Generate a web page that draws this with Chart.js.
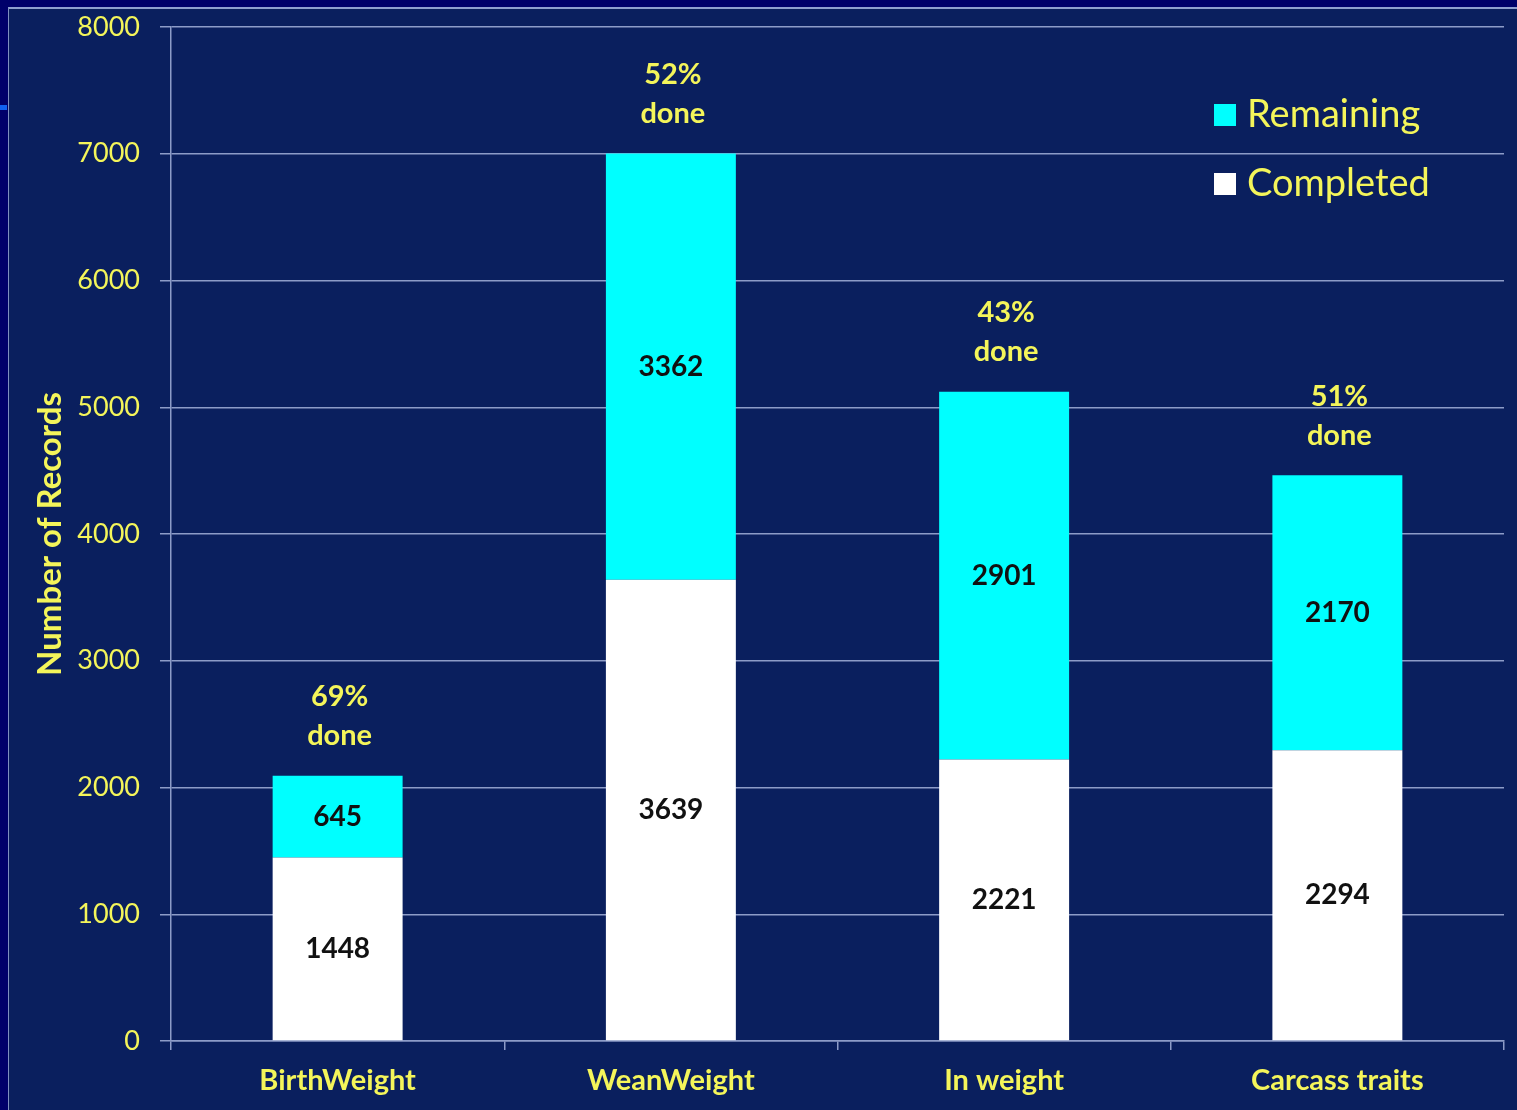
<!DOCTYPE html>
<html>
<head>
<meta charset="utf-8">
<script src="https://cdn.jsdelivr.net/npm/chart.js@4.4.1/dist/chart.umd.min.js"></script>
<style>
html,body{margin:0;padding:0;background:#00006a;width:1517px;height:1110px;overflow:hidden;}
#wrap{position:absolute;left:8px;top:7px;width:1509px;height:1103px;background:#0a1f5e;border-left:1px solid #7f8fc0;border-top:2px solid #8f9fd0;box-sizing:border-box;}
#mark{position:absolute;left:0;top:105px;width:7px;height:5px;background:#1060f0;}
</style>
</head>
<body>
<div id="mark"></div>
<div id="wrap"><canvas id="chartRecordsHTML" width="1508" height="1101"></canvas></div>
<script>
// values
var categories = ['BirthWeight', 'WeanWeight', 'In weight', 'Carcass traits'];
var completed = [1448, 3639, 2221, 2294];
var remaining = [645, 3362, 2901, 2170];
var yTicks = [0, 1000, 2000, 3000, 4000, 5000, 6000, 7000, 8000];

var yellow = '#f4f55a';
var gridCol = '#8d9cc8';
var fontName = 'Lato';

// numbers in the middle of each bar segment
const segLabelsPlugin = {
  id: 'segLabels',
  afterDatasetsDraw(chart) {
    const ctx = chart.ctx;
    ctx.save();
    ctx.font = 'bold 28px ' + fontName;
    ctx.fillStyle = '#111111';
    ctx.textAlign = 'center';
    ctx.textBaseline = 'middle';
    chart.data.datasets.forEach((ds, di) => {
      chart.getDatasetMeta(di).data.forEach((bar, i) => {
        ctx.fillText(String(ds.data[i]), bar.x, (bar.y + bar.base) / 2);
      });
    });
    // "xx% done" above the stack
    const top = chart.getDatasetMeta(1).data;
    ctx.font = 'bold 29px ' + fontName;
    ctx.fillStyle = yellow;
    top.forEach((bar, i) => {
      const pct = Math.round(100 * completed[i] / (completed[i] + remaining[i]));
      ctx.fillText(pct + '%', bar.x + 2, bar.y - 79);
      ctx.fillText('done', bar.x + 2, bar.y - 40);
    });
    ctx.restore();
  }
};

// legend drawn inside the plot, top right
const innerLegendPlugin = {
  id: 'innerLegend',
  afterDraw(chart) {
    const ctx = chart.ctx;
    const area = chart.chartArea;
    const items = chart.data.datasets.slice().reverse();
    ctx.save();
    ctx.font = '38px ' + fontName;
    ctx.textBaseline = 'middle';
    items.forEach((ds, k) => {
      const cy = area.top + 88 + k * 69;
      const x0 = area.right - 290;
      ctx.fillStyle = ds.backgroundColor;
      ctx.fillRect(x0, cy - 11, 22, 22);
      ctx.fillStyle = yellow;
      ctx.fillText(ds.label, x0 + 33, cy);
    });
    ctx.restore();
  }
};

chartRecords = new Chart(
  document.getElementById('chartRecordsHTML'),
  {
    type: 'bar',
    data: {
      labels: categories,
      datasets: [
        {label: 'Completed', data: completed, backgroundColor: '#ffffff', borderWidth: 0},
        {label: 'Remaining', data: remaining, backgroundColor: '#00ffff', borderWidth: 0}
      ]
    },
    options: {
      responsive: false,
      animation: false,
      layout: {padding: {left: 0, top: 0, right: 13, bottom: 0}},
      datasets: {bar: {categoryPercentage: 1, barPercentage: 0.39}},
      plugins: {
        legend: {display: false},
        tooltip: {enabled: false}
      },
      scales: {
        x: {
          stacked: true,
          grid: {drawOnChartArea: false, drawTicks: true, tickLength: 9, color: gridCol, lineWidth: 1.5, offset: true},
          border: {color: gridCol, width: 1.5},
          ticks: {color: yellow, font: {family: fontName, size: 29, weight: 'bold'}, padding: 13},
          afterFit: function (s) { s.height = 69; }
        },
        y: {
          stacked: true,
          min: 0, max: 8000,
          afterBuildTicks: function (s) { s.ticks = yTicks.map(v => ({value: v})); },
          grid: {color: gridCol, lineWidth: 1.5, tickLength: 11},
          border: {color: gridCol, width: 1.5},
          ticks: {color: yellow, font: {family: fontName, size: 27}, padding: 20, callback: v => String(v)},
          title: {display: true, text: 'Number of Records', color: yellow, font: {family: fontName, size: 33, weight: 'bold'}, padding: {top: 22}},
          afterFit: function (s) { s.width = 162; s.paddingTop = 18; s.paddingBottom = 10; }
        }
      }
    },
    plugins: [segLabelsPlugin, innerLegendPlugin]
  }
);
</script>
</body>
</html>
